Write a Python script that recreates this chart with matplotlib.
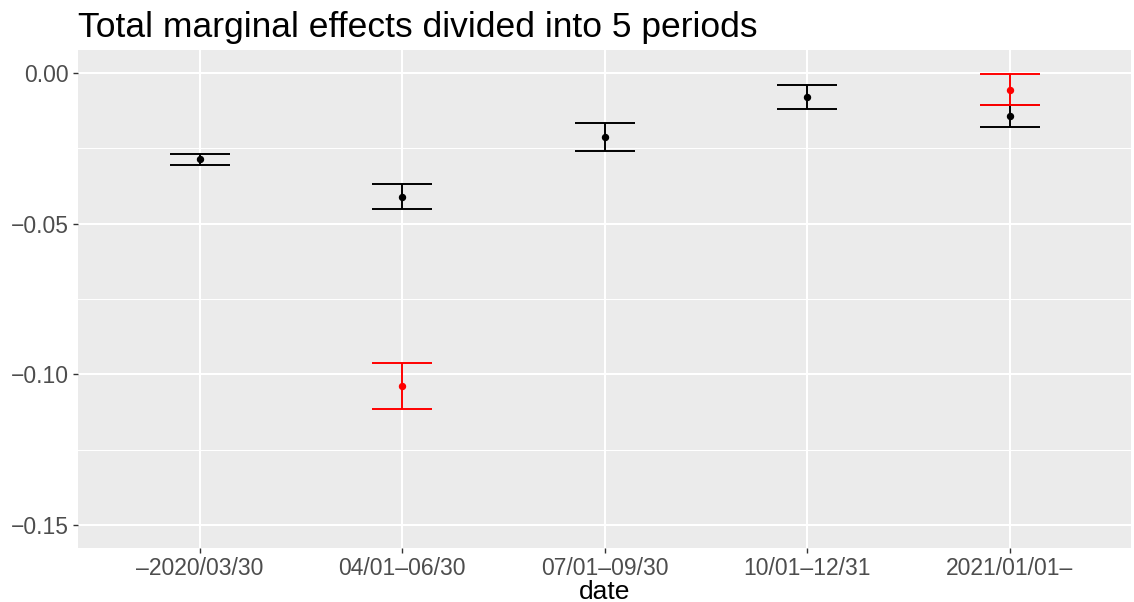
import numpy as np
import matplotlib
matplotlib.use("Agg")
import matplotlib.pyplot as plt
from matplotlib.ticker import MultipleLocator

# ── data ────────────────────────────────────────────────────────────────────
periods = ["–2020/03/30", "04/01–06/30", "07/01–09/30", "10/01–12/31", "2021/01/01–"]

black_est = [-0.0287, -0.0411, -0.0214, -0.0081, -0.0144]
black_lo  = [-0.0306, -0.0452, -0.0261, -0.0122, -0.0180]
black_hi  = [-0.0269, -0.0370, -0.0168, -0.0042, -0.0108]

red_est = [np.nan, -0.1039, np.nan, np.nan, -0.0056]
red_lo  = [np.nan, -0.1115, np.nan, np.nan, -0.0107]
red_hi  = [np.nan, -0.0961, np.nan, np.nan, -0.0006]

plt.rcParams["font.family"] = ["Liberation Sans", "DejaVu Sans"]

BG = "#EBEBEB"
TICK_TXT = "#4D4D4D"

fig = plt.figure(figsize=(11.34, 6.02), dpi=100)
ax = fig.add_axes([78 / 1134, 1 - 548 / 602, (1131 - 78) / 1134, (548 - 50) / 602])
ax.set_facecolor(BG)

x = np.arange(1, len(periods) + 1)


def draw_series(est, lo, hi, color):
    est = np.array(est)
    lo = np.array(lo)
    hi = np.array(hi)
    ok = ~np.isnan(est)
    ax.errorbar(x[ok], est[ok], yerr=[est[ok] - lo[ok], hi[ok] - est[ok]],
                fmt="o", color=color, ecolor=color, markersize=4.3,
                elinewidth=1.4, capsize=30 * 0.72, capthick=1.4, zorder=3)


draw_series(black_est, black_lo, black_hi, "black")
draw_series(red_est, red_lo, red_hi, "red")

ax.set_xlim(0.4, 5.6)
ax.set_ylim(-0.1575, 0.0075)
ax.set_xticks(x)
ax.set_xticklabels(periods)
ax.yaxis.set_major_locator(MultipleLocator(0.05))
ax.yaxis.set_minor_locator(MultipleLocator(0.025))
ax.yaxis.set_major_formatter(matplotlib.ticker.FuncFormatter(
    lambda v, p: f"{v:.2f}".replace("-", "\u2212") if abs(v) > 1e-9 else "0.00"))

ax.grid(True, which="major", color="white", linewidth=1.5)
ax.grid(True, which="minor", axis="y", color="white", linewidth=0.75)
ax.set_axisbelow(True)
for s in ax.spines.values():
    s.set_visible(False)

ax.tick_params(axis="both", which="major", length=3.5, width=1.0, color="#333333",
               labelsize=16.5, labelcolor=TICK_TXT, pad=3)
ax.tick_params(axis="y", which="minor", length=0)

ax.set_xlabel("date", fontsize=19, color="black", labelpad=0)
ax.set_title("Total marginal effects divided into 5 periods", fontsize=25.5,
             loc="left", pad=9, color="black")

fig.savefig("out.png", dpi=100, facecolor="white")
